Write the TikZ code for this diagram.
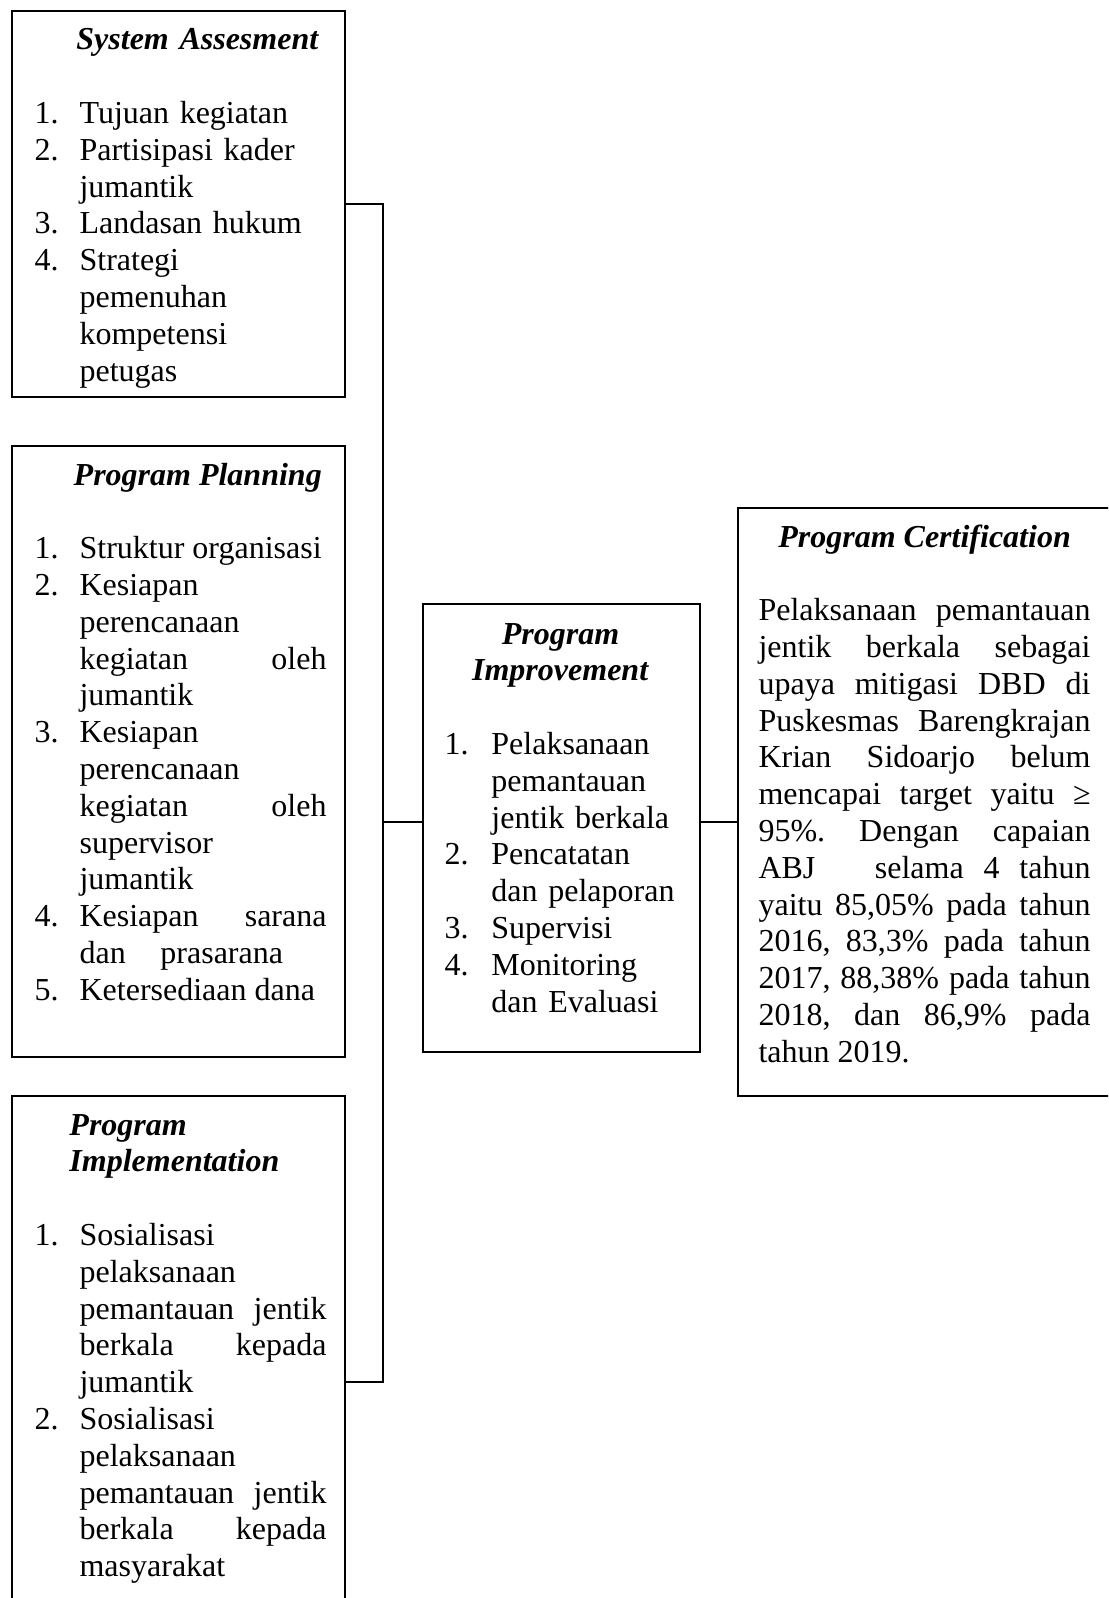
\documentclass[tikz,border=0pt]{standalone}
\usepackage{fontspec}
\setmainfont{Liberation Serif}
\hyphenpenalty=10000
\exhyphenpenalty=10000
\frenchspacing

% hanging list entries inside the panels
\newlength{\entryindent}
\setlength{\entryindent}{16.9pt}
\newcommand{\listentry}[2]{\par\hangindent=\entryindent\hangafter=1\noindent\makebox[\entryindent][l]{#1}#2}
\newcommand{\paneltitle}[1]{\noindent\hspace*{\entryindent}\makebox[\dimexpr\linewidth-\entryindent-4pt\relax][c]{\textbf{\textit{#1}}}\par\vspace{\baselineskip}}

\begin{document}
\begin{tikzpicture}[
		x=0.375pt, y=-0.375pt,
		every node/.style={inner sep=0pt, font=\fontsize{12pt}{13.8pt}\selectfont},
		panel/.style={draw, line width=0.9pt, anchor=north west},
		content/.style={anchor=base west, align=justify},
		link/.style={line width=0.7pt}
		]
		\useasboundingbox (0,0) rectangle (1108,1598);
		\clip (0,0) rectangle (1108,1598);

		% Panels
		\node[panel, minimum width=124.9pt, minimum height=144.75pt] (assess) at (11,10) {};
		\node[panel, minimum width=124.9pt, minimum height=229.1pt] (planning) at (11,445) {};
		\node[panel, minimum width=124.9pt, minimum height=214.5pt] (implement) at (11,1095) {};
		\node[panel, minimum width=103.9pt, minimum height=168pt] (improve) at (422,603) {};
		\node[panel, minimum width=140.3pt, minimum height=220.5pt] (certify) at (737,507) {};

		% Texts
		\node[content, align=left, text width=109.5pt] (assesstext) at (34,50) {%
			\paneltitle{System Assesment}
			\listentry{1.}{Tujuan kegiatan}
			\listentry{2.}{Partisipasi kader\newline jumantik}
			\listentry{3.}{Landasan hukum}
			\listentry{4.}{Strategi\newline pemenuhan\newline kompetensi\newline petugas}\par};
		\node[content, text width=109.5pt] (planningtext) at (34,485) {%
			\paneltitle{Program Planning}
			\listentry{1.}{Struktur organisasi}
			\listentry{2.}{Kesiapan\newline perencanaan\newline kegiatan oleh\linebreak jumantik}
			\listentry{3.}{Kesiapan\newline perencanaan\newline kegiatan oleh\linebreak supervisor\newline jumantik}
			\listentry{4.}{Kesiapan sarana\linebreak dan\hspace{13pt}prasarana}
			\listentry{5.}{Ketersediaan dana}\par};
		\node[content, text width=109.5pt] (implementtext) at (34,1135) {%
			\noindent\hspace*{13.1pt}\textbf{\textit{Program}}\newline
			\hspace*{13.1pt}\textbf{\textit{Implementation}}\par\vspace{\baselineskip}
			\listentry{1.}{Sosialisasi\newline pelaksanaan\newline pemantauan jentik\linebreak berkala kepada\linebreak jumantik}
			\listentry{2.}{Sosialisasi\newline pelaksanaan\newline pemantauan jentik\linebreak berkala kepada\linebreak masyarakat}\par};
		\node[content, align=left, text width=87pt] (improvetext) at (444,644) {%
			\setlength{\entryindent}{17.6pt}%
			{\centering\textbf{\textit{Program\\Improvement}}\par}\vspace{\baselineskip}
			\listentry{1.}{Pelaksanaan\newline pemantauan\newline jentik berkala}
			\listentry{2.}{Pencatatan\newline dan pelaporan}
			\listentry{3.}{Supervisi}
			\listentry{4.}{Monitoring\newline dan Evaluasi}\par};
		\node[content, text width=124.5pt] (certifytext) at (758,547) {%
			{\centering\textbf{\textit{Program Certification}}\par}\vspace{\baselineskip}
			\noindent Pelaksanaan pemantauan\linebreak
			jentik berkala sebagai\linebreak
			upaya mitigasi DBD di\linebreak
			Puskesmas Barengkrajan\linebreak
			Krian Sidoarjo belum\linebreak
			mencapai target yaitu ≥\linebreak
			95\%. Dengan capaian\linebreak
			ABJ\ \ \ selama 4 tahun\linebreak
			yaitu 85,05\% pada tahun\linebreak
			2016, 83,3\% pada tahun\linebreak
			2017, 88,38\% pada tahun\linebreak
			2018, dan 86,9\% pada\linebreak
			tahun 2019.\par};

		% Connectors
		\coordinate (hub) at (383,822);
		\draw[link] (assess.east) -| (hub) |- (implement.east);
		\draw[link] (hub) -- (improve.west |- hub);
		\draw[link] (improve.east |- hub) -- (certify.west |- hub);
	\end{tikzpicture}
\end{document}
